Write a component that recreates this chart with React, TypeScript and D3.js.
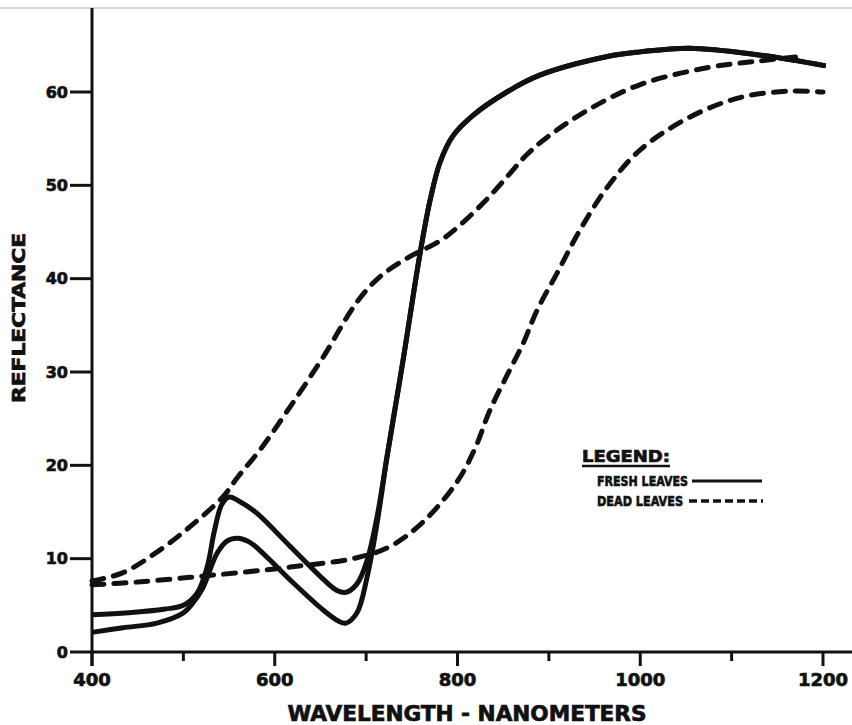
import React from 'react';
import * as d3 from 'd3';

// reflectance curves: [wavelength nm, reflectance]
const freshLeavesA: [number, number][] = [
    [400, 4.0], [440, 4.2], [480, 4.6], [500, 5.0], [515, 6.3], [526, 9.1], [534, 13.0],
    [542, 15.8], [550, 16.6], [562, 16.1], [580, 14.9], [617, 11.3], [653, 7.8], [668, 6.6],
    [678, 6.4], [690, 7.3], [701, 9.8], [712, 14.5], [723, 21], [740, 31], [759, 42.7],
    [770, 48.4], [781, 52.5], [795, 55.3], [817, 57.5], [854, 60], [890, 61.8], [964, 63.8],
    [1000, 64.3], [1054, 64.7], [1128, 64], [1203, 62.8],
];
const freshLeavesB: [number, number][] = [
    [400, 2.1], [434, 2.6], [471, 3.1], [500, 4.2], [510, 5.2], [521, 6.8], [537, 10.6],
    [548, 11.9], [559, 12.2], [572, 11.8], [590, 10.3], [617, 7.7], [653, 4.5], [670, 3.3],
    [678, 3.1], [690, 4.2], [701, 8.0], [712, 13.8], [723, 21], [740, 31], [759, 42.7],
    [770, 48.4], [781, 52.5], [795, 55.3], [817, 57.5], [854, 60], [890, 61.8], [964, 63.8],
    [1000, 64.3], [1054, 64.7], [1128, 64], [1203, 62.8],
];
const deadLeavesA: [number, number][] = [
    [400, 7.6], [434, 8.5], [471, 10.7], [507, 13.4], [543, 16.6], [560, 18.8], [585, 21.8],
    [617, 26.3], [653, 31.6], [690, 37.5], [715, 40.2], [745, 42.2], [780, 44], [800, 45.5],
    [830, 48.3], [855, 51], [876, 53.3], [900, 55.3], [945, 58.2], [1000, 60.8], [1073, 62.6],
    [1128, 63.3], [1175, 63.8],
];
const deadLeavesB: [number, number][] = [
    [400, 7.2], [450, 7.5], [507, 8.0], [560, 8.5], [617, 9.1], [690, 10.1], [726, 11.3],
    [762, 13.9], [800, 18.3], [820, 22], [835, 25.8], [854, 29.6], [872, 33.1], [887, 36.6],
    [909, 40.6], [934, 45.2], [964, 49.8], [1000, 53.8], [1054, 57.3], [1109, 59.4],
    [1164, 60.1], [1200, 60],
];

const xMajorTicks = [400, 600, 800, 1000, 1200];
const xMinorTicks = [500, 700, 900, 1100];
const yTicks = [0, 10, 20, 30, 40, 50, 60];

const xTitle = 'WAVELENGTH - NANOMETERS';
const yTitle = 'REFLECTANCE';
const legendTitle = 'LEGEND:';
const legendFresh = 'FRESH LEAVES';
const legendDead = 'DEAD LEAVES';

const ink = '#111';
const font = '"DejaVu Sans", "Liberation Sans", sans-serif';

export default function App() {
    const W = 852;
    const H = 725;

    const x = d3.scaleLinear().domain([400, 1200]).range([92, 823]);
    const y = d3.scaleLinear().domain([0, 69]).range([652, 8]);

    const line = d3.line<[number, number]>()
        .x(d => x(d[0]))
        .y(d => y(d[1]))
        .curve(d3.curveCatmullRom.alpha(0.5));

    const x0 = x(400);
    const y0 = y(0);

    return (
        <svg width={W} height={H} style={{ position: 'absolute', left: 0, top: 0, background: '#fff' }}>
            {/* faint scan edge at top */}
            <line x1={0} x2={W} y1={8} y2={8} stroke="#aaa" strokeWidth={1} />

            {/* curves */}
            <g fill="none" stroke={ink}>
                <path d={line(freshLeavesA) || ''} strokeWidth={5} />
                <path d={line(freshLeavesB) || ''} strokeWidth={5} />
                <path d={line(deadLeavesA) || ''} strokeWidth={5} strokeDasharray="12 10" strokeLinecap="round" />
                <path d={line(deadLeavesB) || ''} strokeWidth={5} strokeDasharray="12 10" strokeLinecap="round" />
            </g>

            {/* axes */}
            <g stroke={ink} strokeWidth={3}>
                <line x1={x0} x2={x0} y1={8} y2={y0 + 14} />
                <line x1={x0} x2={W} y1={y0} y2={y0} />
                {yTicks.map(t => (
                    <line key={'yt' + t} x1={70} x2={x0} y1={y(t)} y2={y(t)} />
                ))}
                {xMajorTicks.map(t => (
                    <line key={'xM' + t} x1={x(t)} x2={x(t)} y1={y0} y2={y0 + 14} />
                ))}
                {xMinorTicks.map(t => (
                    <line key={'xm' + t} x1={x(t)} x2={x(t)} y1={y0} y2={y0 + 9} />
                ))}
            </g>

            <g fontFamily={font} fontWeight="bold" fill={ink} stroke={ink} strokeWidth={0.7}>
                {yTicks.map(t => (
                    <text key={'yl' + t} x={68} y={y(t)} dy="0.36em" textAnchor="end" fontSize={16}>
                        {t}
                    </text>
                ))}
                {xMajorTicks.map(t => (
                    <text key={'xl' + t} x={x(t)} y={686} textAnchor="middle" fontSize={18}>
                        {t}
                    </text>
                ))}
                <text x={467} y={721} textAnchor="middle" fontSize={21} textLength={359} lengthAdjust="spacingAndGlyphs">
                    {xTitle}
                </text>
                <text transform="translate(25,318) rotate(-90)" textAnchor="middle" fontSize={17} textLength={170} lengthAdjust="spacingAndGlyphs">
                    {yTitle}
                </text>

                {/* legend */}
                <text x={582} y={462} fontSize={15} textLength={88} lengthAdjust="spacingAndGlyphs">{legendTitle}</text>
                <line x1={582} x2={670} y1={466} y2={466} stroke={ink} strokeWidth={2.5} />
                <text x={597} y={486} fontSize={14} textLength={91} lengthAdjust="spacingAndGlyphs">{legendFresh}</text>
                <line x1={692} x2={762} y1={481} y2={481} stroke={ink} strokeWidth={3} />
                <text x={597} y={506} fontSize={14} textLength={86} lengthAdjust="spacingAndGlyphs">{legendDead}</text>
                <line x1={689} x2={763} y1={501} y2={501} stroke={ink} strokeWidth={3.5} strokeDasharray="8 4" />
            </g>
        </svg>
    );
}
